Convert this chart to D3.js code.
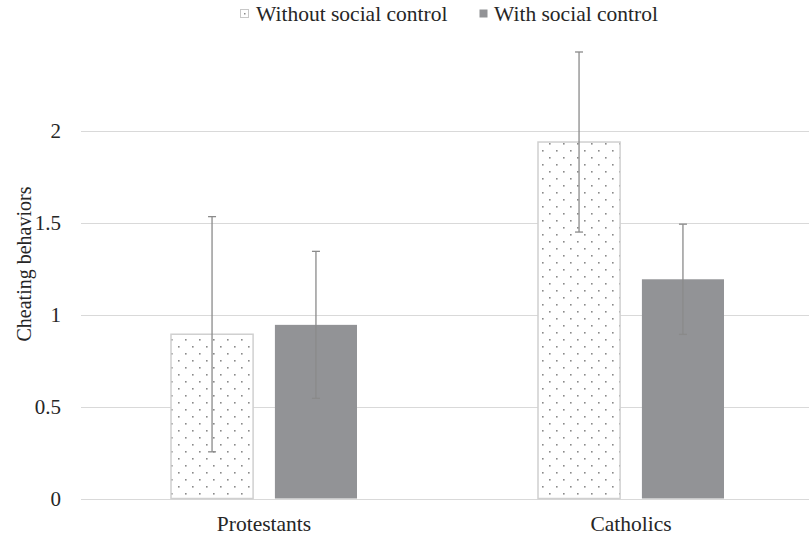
<!DOCTYPE html>
<html lang="en">
<head>
<style>
html, body {
    margin: 0;
    padding: 0;
    background: #fff;
}
</style>
</head>
<body>
<svg id="chart" width="809" height="536"></svg>

<script src="https://cdnjs.cloudflare.com/ajax/libs/d3/7.8.5/d3.min.js"></script>
<script>

var categories = ["Protestants", "Catholics"]
var seriesNames = ["Without social control", "With social control"]
var withoutValues = [0.894, 1.94]
var withValues = [0.945, 1.193]
var withoutErrors = [0.64, 0.49]
var withErrors = [0.40, 0.30]
var yTicks = [0, 0.5, 1, 1.5, 2]

var FONT = "'Liberation Serif', 'Times New Roman', Times, serif"
var INK = "#262626"

var svg = d3.select("#chart")
    .attr("font-family", FONT)

var x0 = d3.scaleBand()
    .domain(categories)
    .range([80.5, 814.5])

var x1 = d3.scaleBand()
    .domain(seriesNames)
    .range([0, 186])
    .paddingInner(0.21)

var y = d3.scaleLinear()
    .domain([0, 2])
    .range([498.5, 131])

// dotted fill
var pat = svg.append("defs").append("pattern")
    .attr("id", "dots")
    .attr("patternUnits", "userSpaceOnUse")
    .attr("width", 14)
    .attr("height", 14)
pat.append("rect").attr("width", 14).attr("height", 14).attr("fill", "#fff")
pat.append("rect").attr("x", 3).attr("y", 3).attr("width", 1.6).attr("height", 1.6).attr("fill", "#8a8a8a")
pat.append("rect").attr("x", 10).attr("y", 10).attr("width", 1.6).attr("height", 1.6).attr("fill", "#8a8a8a")

// gridlines
svg.append("g")
    .selectAll("line")
    .data(yTicks)
    .enter()
    .append("line")
    .attr("x1", 81)
    .attr("x2", 809)
    .attr("y1", function(d){ return Math.round(y(d)) + 0.5 })
    .attr("y2", function(d){ return Math.round(y(d)) + 0.5 })
    .attr("stroke", "#d9d9d9")
    .attr("stroke-width", 1)

svg.append("g")
    .selectAll("text")
    .data(yTicks)
    .enter()
    .append("text")
    .attr("x", 61)
    .attr("y", function(d){ return y(d) + 7 })
    .attr("text-anchor", "end")
    .attr("font-family", FONT)
    .attr("fill", INK)
    .style("font-size", "21px")
    .text(function(d){ return d })

// bars
var rows = categories.map(function(c, i){
    return [
        {cat: c, s: seriesNames[0], v: withoutValues[i], e: withoutErrors[i]},
        {cat: c, s: seriesNames[1], v: withValues[i], e: withErrors[i]}
    ]
})
var flat = [].concat.apply([], rows)

function barX(d){
    return x0(d.cat) + (x0.bandwidth() - 186) / 2 + x1(d.s)
}

svg.append("g")
    .selectAll("rect")
    .data(flat)
    .enter()
    .append("rect")
    .attr("x", function(d){ return barX(d) })
    .attr("y", function(d){ return y(d.v) })
    .attr("width", x1.bandwidth())
    .attr("height", function(d){ return y(0) - y(d.v) })
    .attr("fill", function(d){ return d.s == seriesNames[0] ? "url(#dots)" : "#929396" })
    .attr("stroke", function(d){ return d.s == seriesNames[0] ? "#d0d0d0" : "none" })
    .attr("stroke-width", 1.5)

// error bars
var eg = svg.append("g")
    .selectAll("g")
    .data(flat)
    .enter()
    .append("g")
    .attr("stroke", "#8a8a8a")
    .attr("stroke-width", 1.3)

eg.append("line")
    .attr("x1", function(d){ return barX(d) + x1.bandwidth() / 2 })
    .attr("x2", function(d){ return barX(d) + x1.bandwidth() / 2 })
    .attr("y1", function(d){ return y(d.v + d.e) })
    .attr("y2", function(d){ return y(d.v - d.e) })

eg.selectAll(".cap")
    .data(function(d){ return [d.v + d.e, d.v - d.e].map(function(v){ return {x: barX(d) + x1.bandwidth() / 2, v: v} }) })
    .enter()
    .append("line")
    .attr("class", "cap")
    .attr("x1", function(d){ return d.x - 4 })
    .attr("x2", function(d){ return d.x + 4 })
    .attr("y1", function(d){ return y(d.v) })
    .attr("y2", function(d){ return y(d.v) })

// x labels
svg.append("g")
    .selectAll("text")
    .data(categories)
    .enter()
    .append("text")
    .attr("x", function(d){ return x0(d) + x0.bandwidth() / 2 })
    .attr("y", 531)
    .attr("text-anchor", "middle")
    .attr("font-family", FONT)
    .attr("fill", INK)
    .style("font-size", "21.5px")
    .text(function(d){ return d })

// y title
svg.append("text")
    .attr("transform", "translate(31,264) rotate(-90)")
    .attr("text-anchor", "middle")
    .attr("font-family", FONT)
    .attr("fill", INK)
    .style("font-size", "20px")
    .text("Cheating behaviors")

// legend
var legendX = [240, 479]
var lg = svg.append("g")
    .selectAll("g")
    .data(seriesNames)
    .enter()
    .append("g")
    .attr("transform", function(d, i){ return "translate(" + legendX[i] + ",0)" })

lg.append("rect")
    .attr("x", 0.5)
    .attr("y", 9.5)
    .attr("width", 8)
    .attr("height", 8)
    .attr("fill", function(d, i){ return i == 0 ? "#fff" : "#929396" })
    .attr("stroke", function(d, i){ return i == 0 ? "#c8c8c8" : "none" })
lg.filter(function(d, i){ return i == 0 })
    .append("rect")
    .attr("x", 4)
    .attr("y", 13)
    .attr("width", 1.5)
    .attr("height", 1.5)
    .attr("fill", "#8a8a8a")

lg.append("text")
    .attr("x", function(d, i){ return i == 0 ? 16 : 15 })
    .attr("y", 21)
    .attr("font-family", FONT)
    .attr("fill", INK)
    .style("font-size", "21.5px")
    .text(function(d){ return d })

</script>
</body>
</html>
